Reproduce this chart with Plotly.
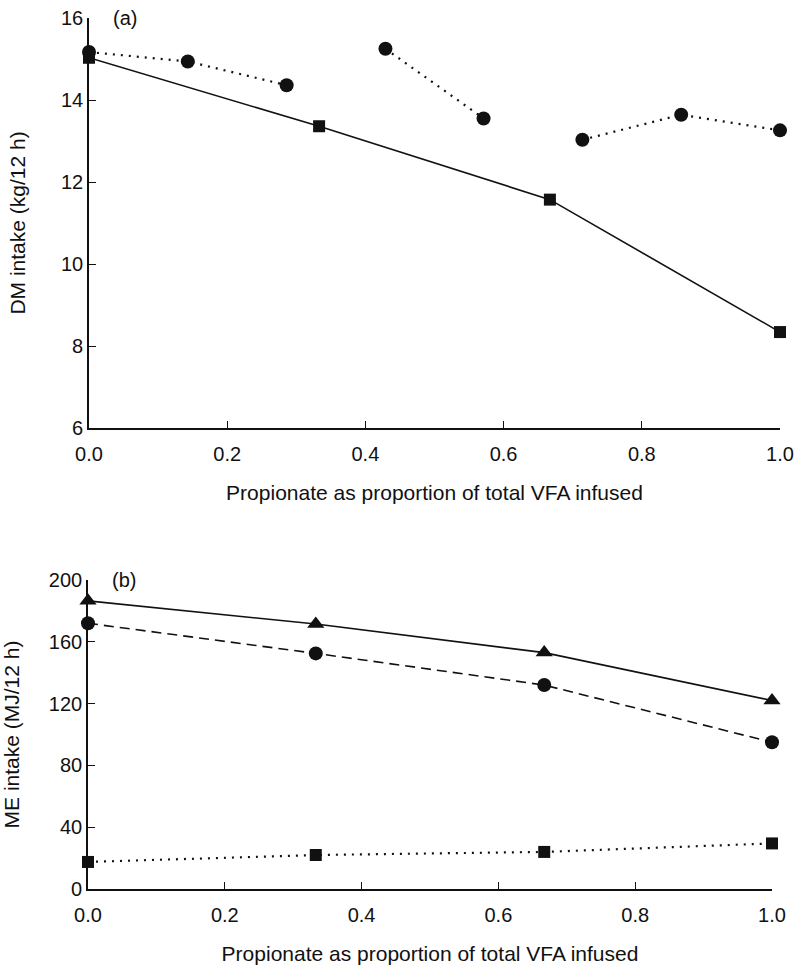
import plotly.graph_objects as go

# ---- Data ----
# Panel (a): DM intake
prop_a_sq = [0.0, 0.333, 0.667, 1.0]
dm_sq = [15.03, 13.36, 11.57, 8.34]
prop_a_circ = [0.0, 0.143, 0.286, None, 0.429, 0.571, None, 0.714, 0.857, 1.0]
dm_circ = [15.17, 14.94, 14.36, None, 15.25, 13.55, None, 13.03, 13.64, 13.26]

# Panel (b): ME intake
prop_b = [0.0, 0.333, 0.667, 1.0]
me_tri = [186.5, 171.5, 153.0, 122.0]
me_circ = [172.0, 152.5, 132.0, 95.0]
me_sq = [17.5, 22.0, 24.0, 29.5]

x_ticks = [0.0, 0.2, 0.4, 0.6, 0.8, 1.0]
y_ticks_a = [6, 8, 10, 12, 14, 16]
y_ticks_b = [0, 40, 80, 120, 160, 200]

x_title = "Propionate as proportion of total VFA infused"
y_title_a = "DM intake (kg/12 h)"
y_title_b = "ME intake (MJ/12 h)"

INK = "#111111"
FONT = "Liberation Sans, Arial, sans-serif"

fig = go.Figure()

# Panel (a)
fig.add_trace(go.Scatter(x=prop_a_sq, y=dm_sq, mode="lines+markers",
                         line=dict(color=INK, width=1.6),
                         marker=dict(symbol="square", size=12, color=INK),
                         cliponaxis=False, xaxis="x", yaxis="y", showlegend=False))
fig.add_trace(go.Scatter(x=prop_a_circ, y=dm_circ, mode="lines+markers",
                         line=dict(color=INK, width=2.2, dash="2px,6px"),
                         marker=dict(symbol="circle", size=14, color=INK),
                         connectgaps=False, cliponaxis=False,
                         xaxis="x", yaxis="y", showlegend=False))

# Panel (b)
fig.add_trace(go.Scatter(x=prop_b, y=me_sq, mode="lines+markers",
                         line=dict(color=INK, width=2.2, dash="2px,6px"),
                         marker=dict(symbol="square", size=12, color=INK),
                         cliponaxis=False, xaxis="x2", yaxis="y2", showlegend=False))
fig.add_trace(go.Scatter(x=prop_b, y=me_circ, mode="lines+markers",
                         line=dict(color=INK, width=1.6, dash="10px,6px"),
                         marker=dict(symbol="circle", size=14, color=INK),
                         cliponaxis=False, xaxis="x2", yaxis="y2", showlegend=False))
fig.add_trace(go.Scatter(x=prop_b, y=me_tri, mode="lines+markers",
                         line=dict(color=INK, width=1.6),
                         marker=dict(symbol="triangle-up", size=15, color=INK),
                         cliponaxis=False, xaxis="x2", yaxis="y2", showlegend=False))

W, H = 795, 970

def px_x(p):
    return p / W

def px_y(p):
    return 1 - p / H

axis_common = dict(
    showline=True, linecolor=INK, linewidth=1.6, mirror=False,
    showgrid=False, zeroline=False, ticks="inside", ticklen=7,
    tickwidth=1.4, tickcolor=INK, automargin=False,
    ticklabeloverflow="allow",
    tickfont=dict(family=FONT, size=20, color=INK),
    title_font=dict(family=FONT, size=21, color=INK),
)

fig.update_layout(
    width=W, height=H,
    margin=dict(l=0, r=0, t=0, b=0),
    paper_bgcolor="white", plot_bgcolor="white",
    xaxis=dict(domain=[px_x(89), px_x(780)], range=[0, 1], tickvals=x_ticks,
               tickformat=".1f", anchor="y", ticklabelstandoff=7,
               title=dict(text=x_title, standoff=22), **axis_common),
    yaxis=dict(domain=[px_y(428), px_y(18)], range=[6, 16], tickvals=y_ticks_a,
               anchor="x", ticklabelstandoff=0,
               title=dict(text=y_title_a, standoff=30), **axis_common),
    xaxis2=dict(domain=[px_x(88), px_x(772)], range=[0, 1], tickvals=x_ticks,
                tickformat=".1f", anchor="y2", ticklabelstandoff=7,
                title=dict(text=x_title, standoff=22), **axis_common),
    yaxis2=dict(domain=[px_y(889), px_y(580)], range=[0, 200], tickvals=y_ticks_b,
                anchor="x2", ticklabelstandoff=0,
                title=dict(text=y_title_b, standoff=30), **axis_common),
    annotations=[
        dict(text="(a)", x=px_x(125), y=px_y(18), xref="paper", yref="paper",
             showarrow=False, xanchor="center", yanchor="middle",
             font=dict(family=FONT, size=20, color=INK)),
        dict(text="(b)", x=px_x(124), y=px_y(580), xref="paper", yref="paper",
             showarrow=False, xanchor="center", yanchor="middle",
             font=dict(family=FONT, size=20, color=INK)),
    ],
)

fig.write_html("out.html",
               config={"displayModeBar": False},
               post_script="document.body.style.margin='0';document.body.style.overflow='hidden';")
